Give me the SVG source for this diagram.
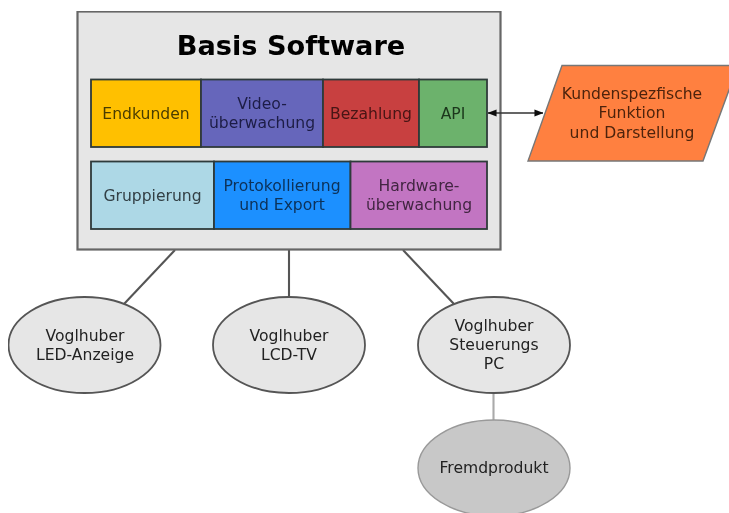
<svg xmlns="http://www.w3.org/2000/svg" width="729" height="513" viewBox="0 0 729 513">
<style>
text{font-family:"DejaVu Sans",sans-serif;font-size:15.6px;text-anchor:middle;fill:#222}
.cell{stroke:#2f3a3a;stroke-width:1.8}
.el{fill:#e6e6e6;stroke:#555;stroke-width:1.8}
.con{stroke:#555;stroke-width:2.1;fill:none}
</style>
<defs>
<filter id="soft" x="0" y="0" width="100%" height="100%"><feGaussianBlur stdDeviation="0.6"/></filter>
<marker id="ah" viewBox="0 0 10 10" refX="9.5" refY="5" markerWidth="9" markerHeight="9" markerUnits="userSpaceOnUse" orient="auto-start-reverse"><path d="M0 1L10 5L0 9Z" fill="#111"/></marker>
</defs>
<rect width="729" height="513" fill="#fff"/>
<g filter="url(#soft)">
<g id="connectors">
<line class="con" x1="175" y1="250" x2="124" y2="304"/>
<line class="con" x1="289" y1="250" x2="289" y2="298"/>
<line class="con" x1="403" y1="250" x2="454" y2="304"/>
<line class="con" x1="493.500" y1="393" x2="493.500" y2="421" style="stroke:#aaa"/>
</g>
<g id="basis">
<rect x="77.500" y="11.500" width="423" height="238" fill="#e6e6e6" stroke="#666" stroke-width="2.200"/>
<text x="291" y="55" style="font-size:27.200px;font-weight:bold;fill:#000">Basis Software</text>
</g>
<g id="endkunden"><rect class="cell" x="91" y="79.500" width="110" height="67.500" fill="#ffc000"/><text x="146" y="118.500" style="fill:#4a3c00">Endkunden</text></g>
<g id="video"><rect class="cell" x="201" y="79.500" width="122" height="67.500" fill="#6666bb"/><text x="262" y="108.500" style="fill:#1e1e46">Video-</text><text x="262" y="127.500" style="fill:#1e1e46">überwachung</text></g>
<g id="bezahlung"><rect class="cell" x="323" y="79.500" width="96" height="67.500" fill="#c84040"/><text x="371" y="118.500" style="fill:#461414">Bezahlung</text></g>
<g id="api"><rect class="cell" x="419" y="79.500" width="68" height="67.500" fill="#6cb26c"/><text x="453" y="118.500" style="fill:#1a361a">API</text></g>
<g id="gruppierung"><rect class="cell" x="91" y="161.500" width="123" height="67.500" fill="#add8e6"/><text x="152.500" y="200.500" style="fill:#323f45">Gruppierung</text></g>
<g id="protokoll"><rect class="cell" x="214" y="161.500" width="136.500" height="67.500" fill="#1e90ff"/><text x="282" y="190.500" style="fill:#0a3058">Protokollierung</text><text x="282" y="209.500" style="fill:#0a3058">und Export</text></g>
<g id="hardware"><rect class="cell" x="350.500" y="161.500" width="136.500" height="67.500" fill="#c274c2"/><text x="419" y="190.500" style="fill:#422642">Hardware-</text><text x="419" y="209.500" style="fill:#422642">überwachung</text></g>
<g id="kunden">
<polygon points="562,65.500 738,65.500 703,161 528,161" fill="#ff8040" stroke="#777" stroke-width="1.400"/>
<text x="632" y="98.500" style="fill:#4e240c">Kundenspezfische</text><text x="632" y="118" style="fill:#4e240c">Funktion</text><text x="632" y="137.500" style="fill:#4e240c">und Darstellung</text>
</g>
<line id="api-link" class="con" x1="488" y1="113" x2="543" y2="113" style="stroke:#333;stroke-width:1.600" marker-start="url(#ah)" marker-end="url(#ah)"/>
<g id="led"><ellipse class="el" cx="84.500" cy="345" rx="76" ry="48"/><text x="85" y="340.500">Voglhuber</text><text x="85" y="359.500">LED-Anzeige</text></g>
<g id="lcd"><ellipse class="el" cx="289" cy="345" rx="76" ry="48"/><text x="289" y="340.500">Voglhuber</text><text x="289" y="359.500">LCD-TV</text></g>
<g id="pc"><ellipse class="el" cx="494" cy="345" rx="76" ry="48"/><text x="494" y="331">Voglhuber</text><text x="494" y="350">Steuerungs</text><text x="494" y="369">PC</text></g>
<g id="fremd"><ellipse cx="494" cy="468" rx="76" ry="48" fill="#c8c8c8" stroke="#999" stroke-width="1.400"/><text x="494" y="473">Fremdprodukt</text></g>
</g>
</svg>
